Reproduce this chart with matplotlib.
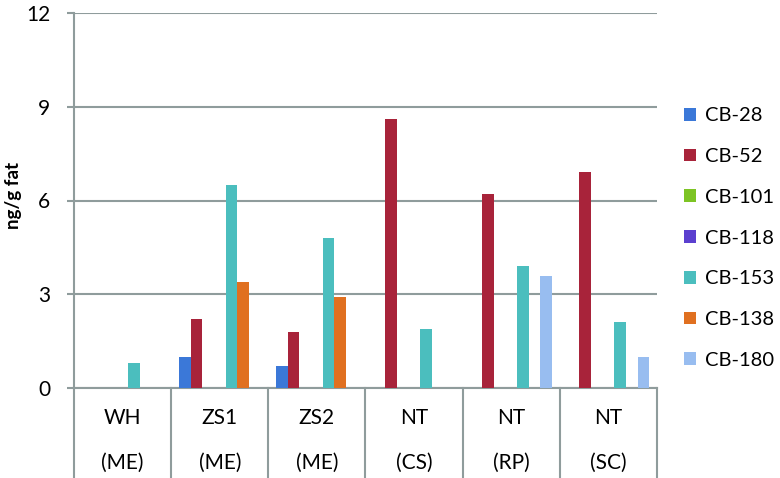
"""Grouped bar chart of PCB congeners (ng/g fat) per site, Excel-style
two-row category axis drawn underneath."""
import matplotlib as mpl
import matplotlib.pyplot as plt
from matplotlib.patches import Patch
import numpy as np

mpl.rcParams.update({
    "font.family": ["Lato", "DejaVu Sans"],
    "font.size": 15,
})

# --- data -------------------------------------------------------------
sites = ["WH", "ZS1", "ZS2", "NT", "NT", "NT"]
regions = ["(ME)", "(ME)", "(ME)", "(CS)", "(RP)", "(SC)"]
congeners = ["CB-28", "CB-52", "CB-101", "CB-118", "CB-153", "CB-138", "CB-180"]

cb28 = [0.0, 1.0, 0.7, 0.0, 0.0, 0.0]
cb52 = [0.0, 2.2, 1.8, 8.6, 6.2, 6.9]
cb101 = [0.0, 0.0, 0.0, 0.0, 0.0, 0.0]
cb118 = [0.0, 0.0, 0.0, 0.0, 0.0, 0.0]
cb153 = [0.8, 6.5, 4.8, 1.9, 3.9, 2.1]
cb138 = [0.0, 3.4, 2.9, 0.0, 0.0, 0.0]
cb180 = [0.0, 0.0, 0.0, 0.0, 3.6, 1.0]

yticks = [0, 3, 6, 9, 12]

colors = ["#3b78d8", "#a8233a", "#7dc424", "#5b3fcf",
          "#4bbebe", "#e07020", "#98bdf0"]
GRID = "#8f9c9c"

series = [cb28, cb52, cb101, cb118, cb153, cb138, cb180]

fig = plt.figure(figsize=(7.8, 4.78), dpi=100)
ax = fig.add_axes([74 / 780, 90 / 478, 583 / 780, 375 / 478])

x = np.arange(len(sites))
bw = 0.12
for i, (vals, c) in enumerate(zip(series, colors)):
    ax.bar(x + (i - 3) * bw, vals, width=bw, color=c, zorder=3)

ax.set_xlim(-0.5, len(sites) - 0.5)
ax.set_ylim(0, 12)
ax.set_yticks(yticks)
ax.yaxis.grid(True, color=GRID, lw=1.5, zorder=0)
ax.tick_params(axis="y", length=5, width=1.5, color=GRID, pad=12,
               labelsize=15)
ax.set_xticks([])
for s in ("top", "right"):
    ax.spines[s].set_visible(False)
ax.spines["left"].set_color(GRID)
ax.spines["left"].set_linewidth(1.5)
ax.spines["bottom"].set_color(GRID)
ax.spines["bottom"].set_linewidth(1.5)

# y label placed by hand so it sits right at the left edge
fig.text(13 / 780, 1 - 195 / 478, "ng/g fat", rotation=90, ha="center",
         va="center", fontsize=13.5, fontweight="bold")

# two-row category table under the axis
trans = ax.get_xaxis_transform()
for b in np.arange(-0.5, len(sites), 1.0):
    ax.plot([b, b], [0, -0.25], transform=trans, color=GRID, lw=1.5,
            clip_on=False)
for xi, s, r in zip(x, sites, regions):
    ax.text(xi, -0.08, s, transform=trans, ha="center", va="center",
            fontsize=15)
    ax.text(xi, -0.20, r, transform=trans, ha="center", va="center",
            fontsize=15)

handles = [Patch(facecolor=c, edgecolor="none") for c in colors]
fig.legend(handles, congeners, loc="center left",
           bbox_to_anchor=(0.872, 0.502), frameon=False,
           handlelength=0.6, handleheight=0.6, handletextpad=0.45,
           labelspacing=1.18, fontsize=14.5, borderaxespad=0.0,
           borderpad=0.2)

fig.savefig("out.png", dpi=100)
